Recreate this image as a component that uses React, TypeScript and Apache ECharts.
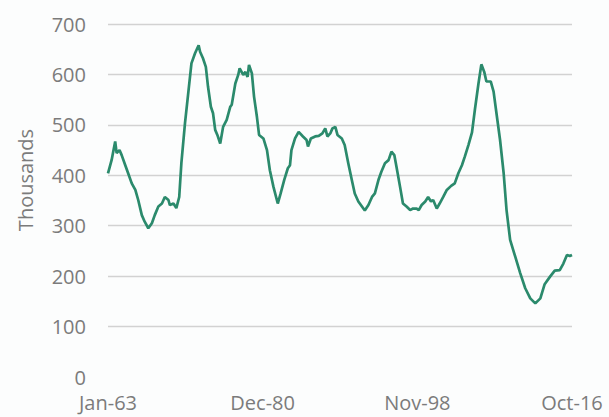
import React, { useEffect, useRef } from "react";
import * as echarts from "echarts";

// month index since Jan-63 (0 = Jan-63, 645 = Oct-16)
const months: number[] = [
  0, 5, 10, 12, 16, 19, 24, 28, 33, 38, 42, 47, 51, 56, 61, 65, 70, 75, 79, 84, 86, 91, 95, 99,
  102, 107, 112, 116, 121, 126, 128, 132, 136, 139, 143, 146, 149, 152, 156, 160, 165, 170, 172,
  177, 181, 183, 188, 191, 194, 196, 200, 203, 207, 210, 216, 221, 225, 230, 236, 240, 245, 250,
  253, 255, 260, 265, 271, 276, 278, 282, 288, 293, 298, 302, 305, 309, 312, 316, 319, 325, 329,
  334, 339, 343, 348, 353, 357, 362, 367, 371, 376, 380, 385, 390, 394, 398, 401, 406, 410, 415,
  420, 424, 429, 432, 436, 441, 445, 449, 452, 457, 461, 466, 471, 477, 482, 487, 492, 496, 501,
  506, 510, 515, 519, 523, 526, 532, 536, 540, 545, 550, 554, 559, 566, 573, 580, 587, 594, 601,
  607, 614, 621, 628, 633, 638, 642, 645,
];

// values in thousands
const values: number[] = [
  404, 430, 467, 444, 450, 440, 420, 404, 384, 371, 351, 321, 308, 295, 305, 321, 338, 344, 357,
  351, 341, 344, 335, 357, 424, 503, 569, 622, 642, 658, 645, 632, 615, 576, 536, 523, 490, 480,
  463, 496, 510, 536, 540, 582, 599, 612, 599, 605, 595, 619, 602, 556, 516, 480, 473, 450, 410,
  377, 344, 364, 391, 414, 420, 450, 473, 486, 477, 470, 457, 473, 477, 478, 483, 493, 477, 483,
  493, 496, 480, 473, 460, 424, 390, 364, 348, 338, 330, 341, 357, 364, 391, 407, 424, 430, 447,
  440, 417, 377, 344, 338, 331, 334, 334, 331, 341, 348, 357, 348, 351, 334, 344, 357, 371, 379,
  384, 404, 420, 437, 460, 485, 530, 582, 620, 605, 586, 586, 566, 523, 470, 404, 331, 272, 239,
  206, 176, 156, 146, 156, 184, 198, 211, 212, 225, 242, 240, 242,
];

const xTickValues: number[] = [0, 215, 430, 645];
const xTickLabels: string[] = ["Jan-63", "Dec-80", "Nov-98", "Oct-16"];
const yAxisTitle = "Thousands";

const FONT = "'Open Sans', 'Noto Sans', sans-serif";
const GRAY = "#7b7b7b";
const GRID = "#d2d2d2";

export default function App() {
  const ref = useRef<HTMLDivElement>(null);

  useEffect(() => {
    if (!ref.current) return;
    document.body.style.margin = "0";
    const chart = echarts.init(ref.current, undefined, { renderer: "svg" });
    const data = months.map((m, i) => [m, values[i]]);
    chart.setOption({
      animation: false,
      backgroundColor: "#fcfdfd",
      grid: { left: 108, right: 37, top: 24, bottom: 40, containLabel: false },
      graphic: [
        {
          type: "text",
          x: 25,
          y: 180,
          rotation: Math.PI / 2,
          style: {
            text: yAxisTitle,
            fill: GRAY,
            font: `20px ${FONT}`,
            align: "center",
            verticalAlign: "middle",
          },
        },
      ],
      xAxis: {
        type: "value",
        min: 0,
        max: 645,
        interval: 215,
        axisLine: { show: false },
        axisTick: { show: false },
        splitLine: { show: false },
        axisLabel: {
          color: GRAY,
          fontFamily: FONT,
          fontSize: 20,
          margin: 15,
          showMinLabel: true,
          showMaxLabel: true,
          formatter: (v: number) => {
            const idx = xTickValues.indexOf(Math.round(v));
            return idx >= 0 ? xTickLabels[idx] : "";
          },
        },
      },
      yAxis: {
        type: "value",
        min: 0,
        max: 700,
        interval: 100,
        axisLine: { show: false },
        axisTick: { show: false },
        axisLabel: { color: GRAY, fontFamily: FONT, fontSize: 20, margin: 22 },
        splitLine: {
          show: true,
          lineStyle: {
            color: ["rgba(0,0,0,0)", GRID, GRID, GRID, GRID, GRID, GRID, GRID],
            width: 1.3,
          },
        },
      },
      series: [
        {
          type: "line",
          data,
          showSymbol: false,
          symbol: "none",
          lineStyle: { color: "#2b8a6c", width: 2.7 },
          smooth: false,
        },
      ],
    });
    return () => chart.dispose();
  }, []);

  return (
    <div
      ref={ref}
      style={{ position: "fixed", left: 0, top: 0, width: 609, height: 417 }}
    />
  );
}
